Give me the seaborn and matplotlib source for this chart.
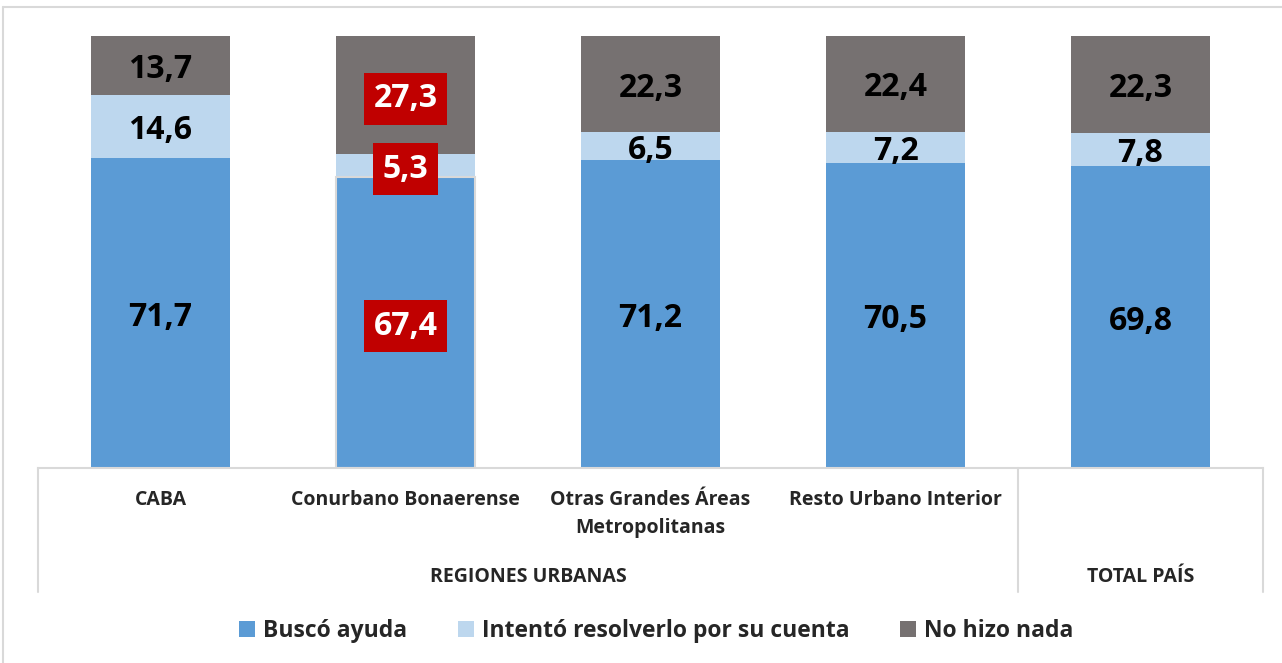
import numpy as np
import pandas as pd
import seaborn as sns
import matplotlib.pyplot as plt
from matplotlib.patches import Patch
from matplotlib.lines import Line2D
import matplotlib.transforms as mtransforms

# datos
regiones = ["CABA", "Conurbano Bonaerense", "Otras Grandes Áreas Metropolitanas",
            "Resto Urbano Interior", "TOTAL PAÍS"]
etiquetas = ["CABA", "Conurbano Bonaerense", "Otras Grandes Áreas\nMetropolitanas",
             "Resto Urbano Interior", ""]
grupos = ["REGIONES URBANAS", "TOTAL PAÍS"]
busco = [71.7, 67.4, 71.2, 70.5, 69.8]
intento = [14.6, 5.3, 6.5, 7.2, 7.8]
nada = [13.7, 27.3, 22.3, 22.4, 22.3]
series = ["Buscó ayuda", "Intentó resolverlo por su cuenta", "No hizo nada"]
destacado = "Conurbano Bonaerense"

colores = ["#5B9BD5", "#BDD7EE", "#767171"]
gris_linea = "#D9D9D9"

sns.set_style("white")
plt.rcParams['font.family'] = ['Open Sans', 'DejaVu Sans']

df = pd.DataFrame({"region": regiones, "busco": busco, "intento": intento, "nada": nada})
df["tope2"] = df["busco"] + df["intento"]
df["tope3"] = df["tope2"] + df["nada"]

fig = plt.figure(figsize=(12.82, 6.63), dpi=100)
ax = fig.add_axes([38 / 1282, 1 - 468 / 663, (1263 - 38) / 1282, (468 - 36) / 663])

ancho = 0.57
sns.barplot(data=df, x="region", y="tope3", order=regiones, color=colores[2], width=ancho,
            saturation=1, linewidth=0, ax=ax)
sns.barplot(data=df, x="region", y="tope2", order=regiones, color=colores[1], width=ancho,
            saturation=1, linewidth=0, ax=ax)
sns.barplot(data=df, x="region", y="busco", order=regiones, color=colores[0], width=ancho,
            saturation=1, linewidth=0, ax=ax)

# borde suave en la barra destacada
i_dest = regiones.index(destacado)
ax.patches[2 * len(regiones) + i_dest].set_edgecolor(gris_linea)
ax.patches[2 * len(regiones) + i_dest].set_linewidth(1.5)

ax.set_xlim(-0.5, len(regiones) - 0.5)
ax.set_ylim(0, 100)
ax.set_xlabel("")
ax.set_ylabel("")
ax.set_yticks([])
ax.set_xticks(range(len(regiones)))
ax.set_xticklabels(etiquetas, fontsize=14, fontweight="bold", linespacing=1.5)
ax.tick_params(axis="x", length=0, pad=16)
for s in ["top", "right", "left"]:
    ax.spines[s].set_visible(False)
ax.spines["bottom"].set_color(gris_linea)
ax.spines["bottom"].set_linewidth(1.5)

# etiquetas de valores
for i, r in enumerate(regiones):
    medios = [busco[i] / 2, busco[i] + intento[i] / 2, busco[i] + intento[i] + nada[i] / 2]
    valores = [busco[i], intento[i], nada[i]]
    for v, ym in zip(valores, medios):
        txt = f"{v:.1f}".replace(".", ",")
        if r == destacado:
            ax.text(i, ym, txt, ha="center", va="center_baseline", fontsize=23,
                    fontweight="bold", color="white",
                    bbox=dict(boxstyle="square,pad=0.3", fc="#C00000", ec="none"))
        else:
            ax.text(i, ym, txt, ha="center", va="center_baseline", fontsize=23,
                    fontweight="bold", color="black")

# eje de categorias en dos niveles
trans = mtransforms.blended_transform_factory(ax.transData, ax.transAxes)
y_fin = (468 - 592) / 432
for xl in [-0.5, 3.5, 4.5]:
    ax.add_line(Line2D([xl, xl], [0, y_fin], transform=trans, color=gris_linea, lw=1.5,
                       clip_on=False))
y_grupo = (468 - 577) / 432
ax.text(1.5, y_grupo, grupos[0], transform=trans, ha="center", va="center",
        fontsize=14, fontweight="bold")
ax.text(4, y_grupo, grupos[1], transform=trans, ha="center", va="center",
        fontsize=14, fontweight="bold")

# marco del grafico
fig.add_artist(Line2D([3 / 1282, 3 / 1282], [0, 1 - 7 / 663], transform=fig.transFigure,
                      color=gris_linea, lw=1.5))
fig.add_artist(Line2D([3 / 1282, 1], [1 - 7 / 663, 1 - 7 / 663], transform=fig.transFigure,
                      color=gris_linea, lw=1.5))

handles = [Patch(facecolor=c, edgecolor="none", label=s) for c, s in zip(colores, series)]
fig.legend(handles=handles, loc="center", bbox_to_anchor=(656 / 1282, 1 - 631 / 663),
           ncol=3, frameon=False, prop={"size": 16.5, "weight": "bold"},
           handlelength=0.7, handleheight=0.7, handletextpad=0.35, columnspacing=2.2)

fig.savefig("out.png", dpi=100)
